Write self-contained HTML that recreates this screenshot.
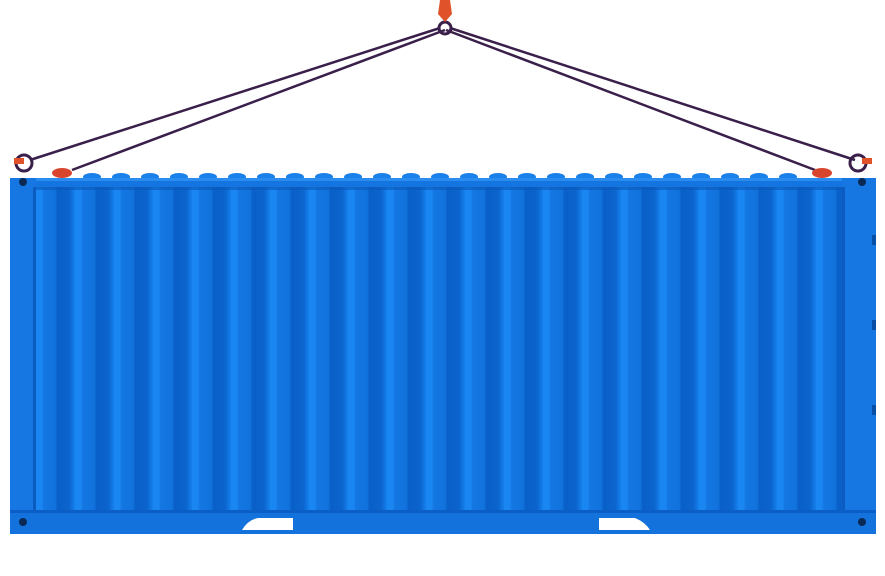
<!DOCTYPE html>
<html><head><style>html,body{margin:0;padding:0;background:#fff;width:885px;height:576px;overflow:hidden}</style></head>
<body>
<svg width="885" height="576" viewBox="0 0 885 576" xmlns="http://www.w3.org/2000/svg">
<defs>
<linearGradient id="cor" x1="0" x2="1" y1="0" y2="0">
<stop offset="0" stop-color="#1a86f2"/>
<stop offset="0.15" stop-color="#1a86f2"/>
<stop offset="0.2" stop-color="#1477e2"/>
<stop offset="0.5" stop-color="#1172dc"/>
<stop offset="0.55" stop-color="#0a5fc8"/>
<stop offset="0.85" stop-color="#0c64cd"/>
<stop offset="1" stop-color="#1580ec"/>
</linearGradient>
<pattern id="pat" x="36" y="0" width="39" height="576" patternUnits="userSpaceOnUse">
<rect width="39" height="576" fill="url(#cor)"/>
</pattern>
<pattern id="bump" x="20" y="0" width="29" height="20" patternUnits="userSpaceOnUse">
<ellipse cx="14" cy="180" rx="9" ry="6" fill="#1a80ea"/>
</pattern>
</defs>
<g stroke="#3a1f4a" stroke-width="2.5" fill="none">
<line x1="440" y1="28" x2="30" y2="160"/>
<line x1="445" y1="30" x2="72" y2="170"/>
<line x1="450" y1="28" x2="855" y2="160"/>
<line x1="446" y1="30" x2="815" y2="170"/>
</g>
<circle cx="445" cy="28" r="6" fill="none" stroke="#3a1f4a" stroke-width="3"/>
<path d="M440 0 L450 0 L452 14 L445 22 L438 14 Z" fill="#e0532a"/>
<circle cx="24" cy="163" r="8" fill="none" stroke="#3a1f4a" stroke-width="3"/>
<circle cx="858" cy="163" r="8" fill="none" stroke="#3a1f4a" stroke-width="3"/>
<rect x="14" y="158" width="10" height="6" fill="#e0532a"/>
<rect x="862" y="158" width="10" height="6" fill="#e0532a"/>
<ellipse cx="62" cy="173" rx="10" ry="5" fill="#d9452c"/>
<ellipse cx="822" cy="173" rx="10" ry="5" fill="#d9452c"/>
<g fill="#1a80ea">
<ellipse cx="92" cy="177" rx="9" ry="4"/><ellipse cx="121" cy="177" rx="9" ry="4"/><ellipse cx="150" cy="177" rx="9" ry="4"/><ellipse cx="179" cy="177" rx="9" ry="4"/><ellipse cx="208" cy="177" rx="9" ry="4"/><ellipse cx="237" cy="177" rx="9" ry="4"/><ellipse cx="266" cy="177" rx="9" ry="4"/><ellipse cx="295" cy="177" rx="9" ry="4"/><ellipse cx="324" cy="177" rx="9" ry="4"/><ellipse cx="353" cy="177" rx="9" ry="4"/><ellipse cx="382" cy="177" rx="9" ry="4"/><ellipse cx="411" cy="177" rx="9" ry="4"/><ellipse cx="440" cy="177" rx="9" ry="4"/><ellipse cx="469" cy="177" rx="9" ry="4"/><ellipse cx="498" cy="177" rx="9" ry="4"/><ellipse cx="527" cy="177" rx="9" ry="4"/><ellipse cx="556" cy="177" rx="9" ry="4"/><ellipse cx="585" cy="177" rx="9" ry="4"/><ellipse cx="614" cy="177" rx="9" ry="4"/><ellipse cx="643" cy="177" rx="9" ry="4"/><ellipse cx="672" cy="177" rx="9" ry="4"/><ellipse cx="701" cy="177" rx="9" ry="4"/><ellipse cx="730" cy="177" rx="9" ry="4"/><ellipse cx="759" cy="177" rx="9" ry="4"/><ellipse cx="788" cy="177" rx="9" ry="4"/>
</g>
<rect x="10" y="178" width="866" height="356" fill="#1575e0"/>
<rect x="10" y="178" width="866" height="3" fill="#2b8cf0"/>
<rect x="36" y="187" width="806" height="323" fill="url(#pat)"/>
<rect x="36" y="187" width="806" height="3" fill="#0b58b8" opacity="0.6"/>
<rect x="10" y="178" width="26" height="356" fill="#1677e3"/>
<rect x="33" y="187" width="3" height="323" fill="#0b5bc0"/>
<rect x="842" y="178" width="34" height="356" fill="#1677e3"/>
<rect x="842" y="187" width="3" height="323" fill="#0b5bc0"/>
<rect x="10" y="510" width="866" height="24" fill="#1372dc"/>
<rect x="10" y="510" width="866" height="3" fill="#0a5ec6"/>
<path d="M242 530 Q248 520 258 518 L293 518 L293 530 Z" fill="#fff"/>
<path d="M599 518 L635 518 Q645 522 650 530 L599 530 Z" fill="#fff"/>
<circle cx="23" cy="182" r="4" fill="#0a2a55"/>
<circle cx="862" cy="182" r="4" fill="#0a2a55"/>
<circle cx="23" cy="522" r="4" fill="#0a2a55"/>
<circle cx="862" cy="522" r="4" fill="#0a2a55"/>
<g fill="#0a4fa6"><rect x="872" y="235" width="4" height="10"/><rect x="872" y="320" width="4" height="10"/><rect x="872" y="405" width="4" height="10"/></g>
</svg>
</body></html>
